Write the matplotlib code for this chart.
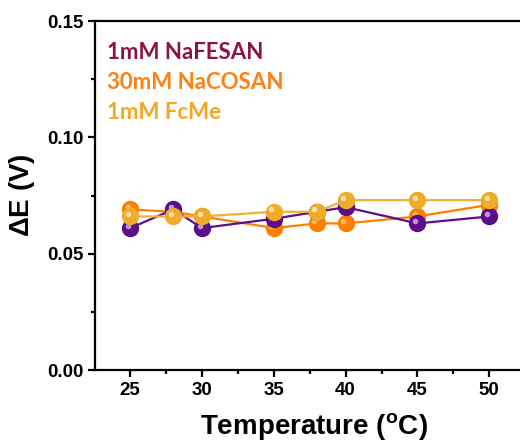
import matplotlib.pyplot as plt
import matplotlib.transforms as mtransforms
from matplotlib.ticker import MultipleLocator

# data
temp = [25, 28, 30, 35, 38, 40, 45, 50]
de_nafesan = [0.061, 0.069, 0.061, 0.065, 0.068, 0.070, 0.063, 0.066]
de_nacosan = [0.069, 0.068, 0.066, 0.061, 0.063, 0.063, 0.066, 0.071]
de_fcme = [0.066, 0.066, 0.066, 0.068, 0.068, 0.073, 0.073, 0.073]
labels = ['1mM NaFESAN', '30mM NaCOSAN', '1mM FcMe']

plt.rcParams['font.family'] = ['Liberation Sans', 'DejaVu Sans']
plt.rcParams['font.weight'] = 'bold'
plt.rcParams['mathtext.fontset'] = 'custom'
plt.rcParams['mathtext.rm'] = 'Liberation Sans:bold'
plt.rcParams['mathtext.bf'] = 'Liberation Sans:bold'

fig = plt.figure(figsize=(5.2, 4.48), dpi=100)
ax = fig.add_axes([0.1827, 0.1741, 0.841, 0.779])

# (series, line colour, ball colour, highlight colour), drawing order
series = [
    (de_nacosan, '#ff8000', '#ff7f00', '#ffc080'),
    (de_nafesan, '#5c0f8b', '#5a0f88', '#c9a6e0'),
    (de_fcme, '#f0b030', '#efab2a', '#fbe3a8'),
]
hl = mtransforms.offset_copy(ax.transData, fig=fig, x=-2.5, y=2.5, units='dots')
for i, (vals, lc, mc, hc) in enumerate(series):
    ax.plot(temp, vals, color=lc, lw=1.6, zorder=2 + i)
    ax.plot(temp, vals, ls='none', marker='o', ms=11.5, mfc=mc, mec=mc,
            zorder=2 + i)
    ax.plot(temp, vals, ls='none', marker='o', ms=4, mfc=hc, mec='none',
            alpha=0.9, transform=hl, zorder=2 + i)

ax.set_xlim(22.55, 53.0)
ax.set_ylim(0, 0.15)
ax.xaxis.set_major_locator(MultipleLocator(5))
ax.xaxis.set_minor_locator(MultipleLocator(2.5))
ax.yaxis.set_major_locator(MultipleLocator(0.05))
ax.yaxis.set_minor_locator(MultipleLocator(0.025))
ax.yaxis.set_major_formatter(plt.FormatStrFormatter('%.2f'))

for s in ax.spines.values():
    s.set_linewidth(1.6)
ax.tick_params(which='major', direction='out', length=5, width=1.6,
               labelsize=13.5)
ax.tick_params(which='minor', direction='out', length=3, width=1.6)

ax.set_xlabel(r'Temperature ($^{\mathbf{o}}$C)', fontsize=20, fontweight='bold',
              labelpad=9)
ax.set_ylabel(r'$\Delta$E (V)', fontsize=20, fontweight='bold', labelpad=7)

text_colors = ['#8c1445', '#ff7f0f', '#f5a623']
for i, (lab, c) in enumerate(zip(labels, text_colors)):
    ax.text(0.028, 0.911 - i * 0.086, lab, transform=ax.transAxes, color=c,
            fontsize=16, fontweight='bold', family=['Lato', 'DejaVu Sans'],
            va='center', ha='left')

fig.savefig('out.png', dpi=100)
